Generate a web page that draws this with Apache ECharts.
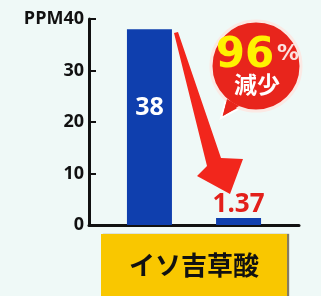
<!DOCTYPE html>
<html>
<head>
<meta charset="utf-8">
<script src="https://cdn.jsdelivr.net/npm/echarts@6/dist/echarts.min.js"></script>
<style>
    html, body {margin: 0; padding: 0; background: #eff9f7;}
    #chart {width: 321px; height: 296px;}
</style>
</head>
<body>
<div id="chart"></div>
<script>
// данные графика
let categories = ['イソ吉草酸']
let beforeValues = [38]
let afterValues = [1.37]
let yTicks = {min: 0, max: 40, interval: 10}
let reduction = '96'

let chartInst = echarts.init(document.getElementById('chart'))

let options = {
    animation: false,
    backgroundColor: '#eff9f7',
    grid: {left: 89, top: 19, right: 22, bottom: 69},
    xAxis: {
        type: 'category',
        data: categories,
        axisLine: {lineStyle: {color: '#111', width: 3}},
        axisTick: {show: false},
        axisLabel: {
            margin: 9,
            color: '#111',
            fontSize: 26,
            fontWeight: 'bold',
            fontFamily: 'Noto Sans CJK JP',
            backgroundColor: '#f9c700',
            width: 186,
            height: 62,
            lineHeight: 62,
            align: 'center',
            shadowColor: 'rgba(60,40,0,0.6)',
            shadowOffsetX: 2,
            shadowBlur: 1,
        },
    },
    yAxis: {
        type: 'value',
        min: yTicks.min,
        max: yTicks.max,
        interval: yTicks.interval,
        splitLine: {show: false},
        axisLine: {show: true, lineStyle: {color: '#111', width: 3}},
        axisTick: {show: true, inside: true, length: 7, lineStyle: {color: '#111', width: 2}},
        axisLabel: {
            margin: 5,
            color: '#111',
            fontSize: 18,
            fontWeight: 'bold',
            fontFamily: 'Open Sans',
            formatter: (v) => v === yTicks.max ? 'PPM' + v : String(v),
        },
    },
    series: [
        {
            type: 'bar',
            data: beforeValues,
            barWidth: 45,
            barGap: '98%',
            itemStyle: {color: '#0f3fae'},
            label: {
                show: true,
                position: 'inside',
                offset: [0, -19],
                color: '#fff',
                fontSize: 25,
                fontWeight: 'bold',
                fontFamily: 'Open Sans',
            },
        },
        {
            type: 'bar',
            data: afterValues,
            barWidth: 45,
            itemStyle: {color: '#0f3fae'},
            label: {
                show: true,
                position: 'top',
                distance: 0,
                color: '#e3201b',
                fontSize: 26,
                fontWeight: 'bold',
                fontFamily: 'Open Sans',
            },
        },
    ],
    graphic: [
        {
            // стрелка вниз
            type: 'polygon',
            z: 10,
            shape: {points: [[174, 33], [178, 32], [221, 158], [243, 159], [230, 194], [197, 176], [207, 166]]},
            style: {fill: '#f2261c'},
        },
        {
            // хвостик облачка
            type: 'polygon',
            z: 10,
            shape: {points: [[226, 100], [240, 108], [221, 118]]},
            style: {fill: '#e8251c', stroke: '#fff', lineWidth: 2},
        },
        {
            type: 'circle',
            z: 11,
            shape: {cx: 256, cy: 66, r: 45},
            style: {fill: '#e8251c', stroke: '#fbe9e4', lineWidth: 3},
        },
        {
            type: 'polygon',
            z: 12,
            shape: {points: [[227, 99], [239, 106], [223, 116]]},
            style: {fill: '#e8251c'},
        },
        {
            type: 'text',
            z: 13,
            x: 245, y: 56,
            style: {
                text: reduction,
                fill: '#fff200',
                font: 'bold 42px "DejaVu Sans"',
                align: 'center',
                verticalAlign: 'middle',
            },
        },
        {
            type: 'text',
            z: 13,
            x: 288, y: 54,
            style: {
                text: '%',
                fill: '#fbe3e0',
                font: 'bold 22px "DejaVu Sans"',
                align: 'center',
                verticalAlign: 'middle',
            },
        },
        {
            type: 'text',
            z: 13,
            x: 257, y: 84,
            style: {
                text: '減少',
                fill: '#fff',
                font: 'bold 23px "Noto Sans CJK JP"',
                align: 'center',
                verticalAlign: 'middle',
            },
        },
    ],
}

chartInst.setOption(options)
</script>
</body>
</html>
